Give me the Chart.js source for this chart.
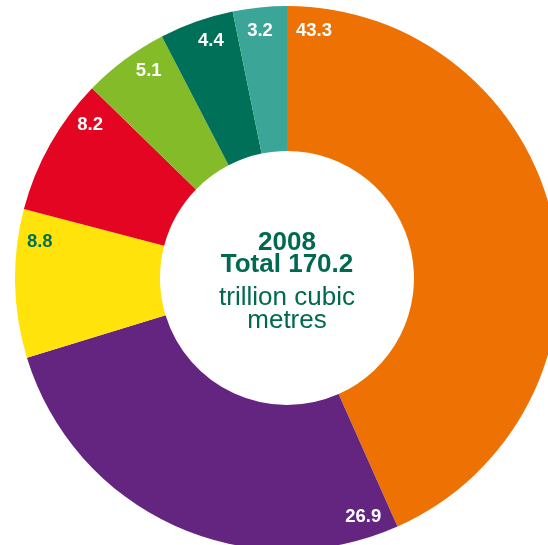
<!DOCTYPE html>
<html>
<head>
<meta charset="utf-8">
<script src="https://cdn.jsdelivr.net/npm/chart.js"></script>
<style>
  html, body { margin: 0; padding: 0; background: #fff; }
  body { width: 548px; height: 545px; overflow: hidden; position: relative; }
  #wrap { position: absolute; left: 15px; top: 6px; width: 544px; height: 544px; }
</style>
</head>
<body>
<div id="wrap"><canvas id="gasChart" width="544" height="544"></canvas></div>
<script>
  // Shares of world gas reserves, 2008 (%), clockwise from 12 o'clock
  const regions = ['Middle East', 'Europe & Eurasia', 'Asia Pacific', 'Africa', 'North America', 'S. & Cent. America', 'Other'];
  const shares = [43.3, 26.9, 8.8, 8.2, 5.1, 4.4, 3.2];
  const sliceColors = ['#ee7203', '#642580', '#ffe30b', '#e30521', '#84bb29', '#007058', '#3ba698'];
  const labelColors = ['#fff', '#fff', '#007058', '#fff', '#fff', '#fff', '#fff'];
  const centerLines = ['2008', 'Total 170.2', 'trillion cubic', 'metres'];

  const TEXT_GREEN = '#00694f';
  const FONT = '"Liberation Sans", Arial, sans-serif';

  // value labels sit just inside the slice edge, near the outer rim
  const sliceLabels = {
    id: 'sliceLabels',
    afterDatasetsDraw(chart) {
      const { ctx } = chart;
      const meta = chart.getDatasetMeta(0);
      const step = 6.2 * Math.PI / 180;
      ctx.save();
      ctx.font = 'bold 18.5px ' + FONT;
      ctx.textAlign = 'center';
      ctx.textBaseline = 'middle';
      meta.data.forEach((arc, i) => {
        const { x, y, startAngle, endAngle, outerRadius } = arc.getProps(['x', 'y', 'startAngle', 'endAngle', 'outerRadius'], true);
        // first two slices label from their leading edge, the rest from their trailing edge
        const a = i < 2 ? startAngle + step : endAngle - step;
        const r = outerRadius - 22;
        ctx.fillStyle = labelColors[i];
        ctx.fillText(String(shares[i]), x + Math.cos(a) * r, y + Math.sin(a) * r + 1);
      });
      ctx.restore();
    }
  };

  // title block in the hole
  const centerText = {
    id: 'centerText',
    afterDraw(chart) {
      const { ctx } = chart;
      const arc = chart.getDatasetMeta(0).data[0];
      const cx = arc.x, cy = arc.y;
      const rows = [
        { t: centerLines[0], bold: true, dy: -28 },
        { t: centerLines[1], bold: true, dy: -6 },
        { t: centerLines[2], bold: false, dy: 27 },
        { t: centerLines[3], bold: false, dy: 50 }
      ];
      ctx.save();
      ctx.fillStyle = TEXT_GREEN;
      ctx.textAlign = 'center';
      ctx.textBaseline = 'alphabetic';
      rows.forEach(row => {
        ctx.font = (row.bold ? 'bold ' : '') + '26px ' + FONT;
        ctx.fillText(row.t, cx, cy + row.dy);
      });
      ctx.restore();
    }
  };

  new Chart(document.getElementById('gasChart'), {
    type: 'doughnut',
    data: {
      labels: regions,
      datasets: [{
        data: shares,
        backgroundColor: sliceColors,
        borderWidth: 0,
        hoverOffset: 0
      }]
    },
    options: {
      responsive: false,
      animation: false,
      cutout: 127,
      layout: { padding: 0 },
      plugins: {
        legend: { display: false },
        tooltip: { enabled: false }
      },
      events: []
    },
    plugins: [sliceLabels, centerText]
  });
</script>
</body>
</html>
